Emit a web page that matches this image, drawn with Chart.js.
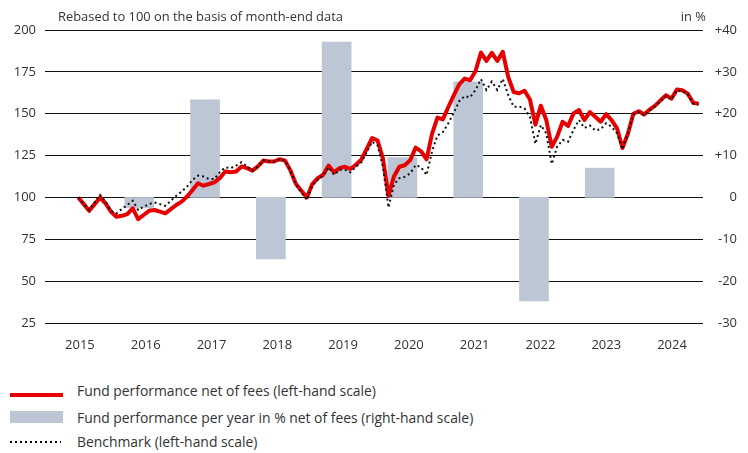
<!DOCTYPE html>
<html>
<head>
<meta charset="utf-8">
<script src="https://cdn.jsdelivr.net/npm/chart.js@4.4.0/dist/chart.umd.min.js"></script>
<style>
html,body{margin:0;padding:0;background:#fff;}
body{width:748px;height:453px;position:relative;overflow:hidden;font-family:"Open Sans",sans-serif;color:#333;}
#wrap{position:absolute;left:0;top:0;width:748px;height:350px;}
.t{position:absolute;white-space:nowrap;line-height:18px;}
.sw{position:absolute;}
</style>
</head>
<body>
<div id="wrap"><canvas id="c" width="748" height="350"></canvas></div>
<div class="t" id="title" style="left:58px;top:7px;font-size:12.9px;">Rebased to 100 on the basis of month-end data</div>
<div class="t" id="unit" style="right:42px;top:7px;font-size:12.9px;">in %</div>

<div class="sw" style="left:10px;top:393px;width:53px;height:4px;background:#e60000;"></div>
<div class="t" style="left:77px;top:382px;font-size:13.9px;">Fund performance net of fees (left-hand scale)</div>
<div class="sw" style="left:10px;top:411px;width:53px;height:12px;background:#bcc6d4;"></div>
<div class="t" style="left:77px;top:409px;font-size:13.9px;">Fund performance per year in % net of fees (right-hand scale)</div>
<div class="sw" style="left:10px;top:441px;width:51px;height:2px;background:repeating-linear-gradient(90deg,#000 0 2px,transparent 2px 5px);"></div>
<div class="t" style="left:77px;top:433px;font-size:13.9px;">Benchmark (left-hand scale)</div>

<script>
// Month-end values, rebased to 100 (left-hand scale)
const fund = [
  100, 96, 92, 96, 100, 96.5, 91.5, 88.5, 89, 90,
  93.5, 87, 89.5, 92, 92.5, 91.5, 90.5, 93, 95.5, 97.5,
  100.5, 104.5, 108.5, 107, 108, 109, 111.5, 115.5, 115, 115.5,
  118.5, 117.5, 116, 118.5, 122, 121.5, 121.5, 122.8, 122, 116,
  108, 104, 100, 108, 111.5, 113.5, 119, 115, 117.5, 118.3,
  117, 119.5, 122.5, 129, 135.5, 134, 123, 101, 112.5, 118.3,
  119.2, 122.3, 129.8, 127.5, 122.7, 138, 147.7, 146.6, 154, 161,
  167.5, 171, 170, 175.5, 186.5, 181.5, 186.4, 181.5, 187, 172,
  163, 162.2, 163.7, 158.5, 143.5, 154.8, 146.2, 130.3, 136.3, 145.2,
  142.7, 150.2, 152.2, 146.2, 151, 148.2, 145.2, 149.8, 146.2, 141.3,
  129.5, 138, 150, 151.5, 149.5, 152.5, 154.8, 158, 161, 159,
  164.5, 164, 162, 156.5, 156
];
const benchmark = [
  100, 96, 92.5, 97, 101.5, 97.5, 92, 90.5, 93, 95.5,
  98, 92.5, 94.5, 96, 97, 96, 95, 98, 101, 103.5,
  106.5, 110.5, 113, 112.5, 111, 111, 115, 118, 117.5, 119,
  121, 118.5, 116, 118.5, 122, 121.5, 121.5, 122.8, 122, 116,
  107.5, 103, 98.5, 107, 110.5, 113, 118, 113.5, 116.5, 116.5,
  115, 118.3, 121, 127, 133.3, 131, 118, 94, 107.5, 111.5,
  112.3, 114.4, 119.4, 118, 113.4, 127.5, 137, 139, 144.3, 150.5,
  157.5, 160.5, 159.8, 164.2, 170.6, 164.2, 169.2, 164.2, 170.8, 161.2,
  154.2, 154.2, 153.2, 148, 132, 143.2, 138.3, 120, 130.3, 134.3,
  133.3, 140.3, 146.2, 141.5, 143, 140, 140.7, 144.3, 142.2, 138.3,
  128.7, 138.5, 149.5, 151, 149, 152, 154.5, 157.5, 160.5, 158.5,
  164, 163.5, 161.5, 156, 155.5
];
// Calendar-year performance in % (right-hand scale)
const barYears = [2016, 2017, 2018, 2019, 2020, 2021, 2022, 2023];
const barValues = [-2.5, 23.3, -14.7, 37.1, 9.5, 27.6, -24.7, 7.0];
// X-axis tick labels
const yearLabels = ['2015','2016','2017','2018','2019','2020','2021','2022','2023','2024'];

// axis geometry (in month-index units)
const YEAR_UNITS = 12.09;
const LABEL_X0 = 0.3;
const BAR_X0 = 11.2;

const tickFont = {family: '"Open Sans", sans-serif', size: 13};
const tickColor = '#333';

new Chart(document.getElementById('c'), {
  data: {
    datasets: [
      {
        type: 'line',
        label: 'Benchmark (left-hand scale)',
        data: benchmark.map((v, i) => ({x: i, y: v})),
        borderColor: '#111',
        borderWidth: 2,
        borderDash: [2, 3],
        pointRadius: 0,
        tension: 0,
        yAxisID: 'y',
        order: 1
      },
      {
        type: 'line',
        label: 'Fund performance net of fees (left-hand scale)',
        data: fund.map((v, i) => ({x: i, y: v})),
        borderColor: '#e60000',
        borderWidth: 4,
        borderJoinStyle: 'round',
        pointRadius: 0,
        tension: 0,
        yAxisID: 'y',
        order: 2
      },
      {
        type: 'bar',
        label: 'Fund performance per year in % net of fees (right-hand scale)',
        data: barYears.map((yr, k) => ({x: BAR_X0 + (yr - barYears[0]) * YEAR_UNITS, y: barValues[k]})),
        backgroundColor: '#bcc6d4',
        barThickness: 29,
        yAxisID: 'y2',
        order: 3
      }
    ]
  },
  options: {
    responsive: false,
    animation: false,
    events: [],
    layout: {padding: {left: 0, right: 11, top: 30, bottom: 0}},
    plugins: {legend: {display: false}, tooltip: {enabled: false}},
    scales: {
      x: {
        type: 'linear',
        offset: false,
        min: -6.12,
        max: 114.8,
        grid: {display: false, offset: false},
        border: {display: false},
        afterBuildTicks: (s) => { s.ticks = yearLabels.map((y, k) => ({value: LABEL_X0 + k * YEAR_UNITS})); },
        ticks: {
          autoSkip: false, maxRotation: 0, padding: 6,
          font: tickFont, color: tickColor,
          callback: (v, i) => yearLabels[i]
        },
        afterFit: (s) => { s.height = 27; }
      },
      y: {
        position: 'left',
        min: 25, max: 200,
        ticks: {stepSize: 25, padding: 9, font: tickFont, color: tickColor},
        grid: {color: '#111', lineWidth: 1, drawTicks: false},
        border: {display: false},
        afterFit: (s) => { s.width = 45; }
      },
      y2: {
        position: 'right',
        min: -30, max: 40,
        ticks: {
          stepSize: 10, padding: 9, crossAlign: 'far', font: tickFont, color: tickColor,
          callback: (v) => (v > 0 ? '+' + v : String(v))
        },
        grid: {display: false, drawTicks: false},
        border: {display: false},
        afterFit: (s) => { s.width = 34; }
      }
    }
  }
});
</script>
</body>
</html>
